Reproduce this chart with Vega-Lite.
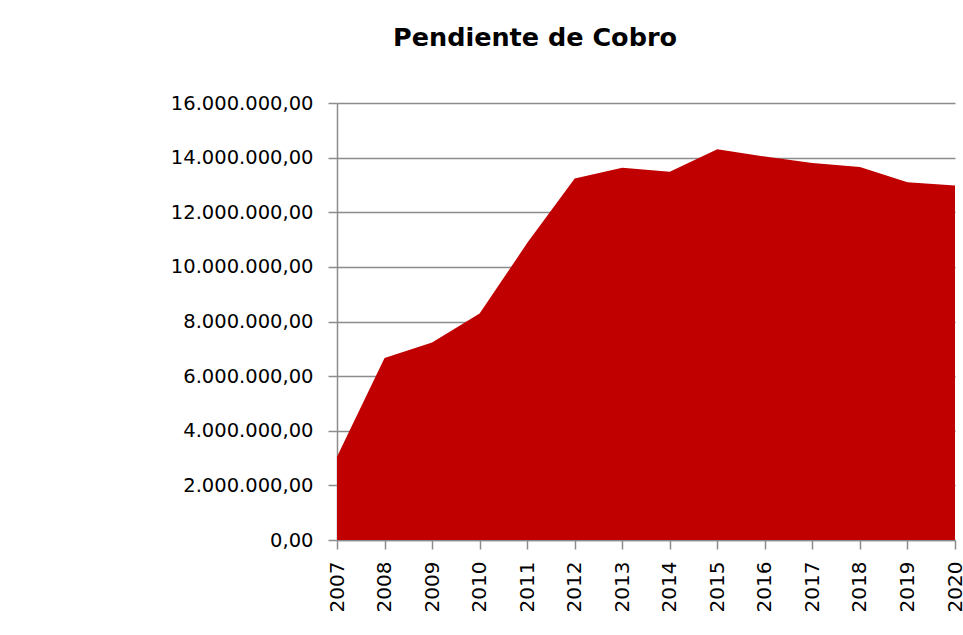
{
  "$schema": "https://vega.github.io/schema/vega-lite/v6.json",
  "autosize": {"type": "none"},
  "padding": {"left": 337, "top": 103, "right": 8, "bottom": 95},
  "width": 618,
  "height": 437,
  "background": "white",
  "title": {
    "text": "Pendiente de Cobro",
    "font": "DejaVu Sans",
    "fontSize": 25.5,
    "fontWeight": "bold",
    "color": "#000000",
    "anchor": "middle",
    "frame": "group",
    "dx": -111,
    "offset": 22,
    "baseline": "alphabetic"
  },
  "config": {
    "locale": {
      "number": {"decimal": ",", "thousands": ".", "grouping": [3], "currency": ["", " €"]}
    },
    "view": {"stroke": null},
    "axis": {
      "labelFont": "DejaVu Sans",
      "labelFontSize": 19.5,
      "labelColor": "#000000",
      "domainColor": "#8c8c8c",
      "domainWidth": 1.5,
      "tickColor": "#8c8c8c",
      "tickWidth": 1.5,
      "tickSize": 9,
      "gridColor": "#8c8c8c",
      "gridWidth": 1.5,
      "title": null
    }
  },
  "data": {
    "values": [
      {"year": "2007", "value": 3050000},
      {"year": "2008", "value": 6660000},
      {"year": "2009", "value": 7230000},
      {"year": "2010", "value": 8290000},
      {"year": "2011", "value": 10870000},
      {"year": "2012", "value": 13240000},
      {"year": "2013", "value": 13630000},
      {"year": "2014", "value": 13480000},
      {"year": "2015", "value": 14310000},
      {"year": "2016", "value": 14040000},
      {"year": "2017", "value": 13800000},
      {"year": "2018", "value": 13660000},
      {"year": "2019", "value": 13100000},
      {"year": "2020", "value": 12980000}
    ]
  },
  "mark": {"type": "area", "color": "#C00000", "opacity": 1},
  "encoding": {
    "x": {
      "field": "year",
      "type": "ordinal",
      "scale": {"type": "point", "padding": 0},
      "axis": {
        "labelAngle": -90,
        "labelPadding": 12,
        "grid": false,
        "labelFontSize": 20
      }
    },
    "y": {
      "field": "value",
      "type": "quantitative",
      "scale": {"domain": [0, 16000000], "nice": false},
      "axis": {
        "values": [0, 2000000, 4000000, 6000000, 8000000, 10000000, 12000000, 14000000, 16000000],
        "format": ",.2f",
        "labelPadding": 15,
        "grid": true
      }
    }
  }
}
